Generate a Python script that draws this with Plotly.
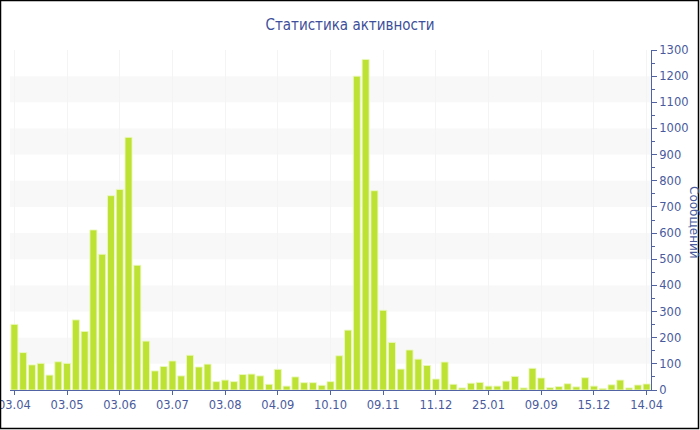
import plotly.graph_objects as go

# ---- data ----
values = [
    251, 143, 96, 102, 57, 108, 102, 268, 224, 612,
    519, 743, 767, 966, 477, 187, 73, 90, 111, 54,
    133, 88, 99, 32, 38, 32, 59, 61, 54, 22,
    79, 15, 50, 28, 28, 18, 32, 131, 229, 1200,
    1264, 762, 305, 182, 80, 153, 118, 94, 42, 107,
    22, 8, 26, 29, 15, 15, 34, 52, 8, 83,
    46, 9, 13, 24, 12, 47, 15, 6, 20, 38,
    8, 19, 23,
]
tick_labels = ["03.04", "03.05", "03.06", "03.07", "03.08", "04.09", "10.10",
               "09.11", "11.12", "25.01", "09.09", "15.12", "14.04"]
label_step = 6
title_text = "Статистика активности"
y_title = "Сообщений"
y_max = 1300
y_step = 100

# ---- layout constants ----
W, H = 700, 430
ML, MR, MT, MB = 10, 49, 50, 40
PW, PH = W - ML - MR, H - MT - MB

axis_col = "#5163a3"
text_col = "#4a5b9d"
bar_col = "#bde233"
font_family = "DejaVu Sans"

x = list(range(len(values)))
tickvals = x[::label_step]

fig = go.Figure()
fig.add_trace(go.Bar(
    x=x, y=values,
    marker=dict(color=bar_col, line=dict(color="rgba(235,248,190,0.9)", width=1)),
    hoverinfo="y",
))

shapes = []
# alternating background bands
for lo in range(y_step, y_max, 2 * y_step):
    shapes.append(dict(type="rect", xref="paper", yref="y", x0=0, x1=1,
                       y0=lo, y1=lo + y_step, fillcolor="#f8f8f8",
                       line=dict(width=0), layer="below"))
# outer frame
shapes.append(dict(type="rect", xref="paper", yref="paper",
                   x0=(0.5 - ML) / PW, x1=(W - 1.5 - ML) / PW,
                   y0=(PH + MT - (H - 1.5)) / PH, y1=(PH + MT - 0.5) / PH,
                   line=dict(color="black", width=1.5), fillcolor="rgba(0,0,0,0)",
                   layer="above"))

fig.update_layout(
    width=W, height=H,
    margin=dict(l=ML, r=MR, t=MT, b=MB, pad=0, autoexpand=False),
    paper_bgcolor="white", plot_bgcolor="white",
    font=dict(family=font_family, color=text_col, size=12),
    title=dict(text=title_text, x=0.5, xanchor="center", y=1 - 25 / H, yanchor="middle",
               font=dict(family="DejaVu Sans Condensed, DejaVu Sans", size=15, color="#3d4f9a")),
    bargap=0.2,
    showlegend=False,
    shapes=shapes,
    annotations=[dict(text=y_title, xref="paper", yref="paper",
                      x=(694 - ML) / PW, y=(PH + MT - 222) / PH,
                      xanchor="center", yanchor="middle", showarrow=False,
                      textangle=90, font=dict(family=font_family, size=12, color=text_col))],
)
fig.update_xaxes(
    range=[-0.5, len(values) - 0.5],
    tickmode="array", tickvals=tickvals, ticktext=tick_labels,
    ticks="outside", ticklen=4, tickcolor=axis_col,
    showline=True, linecolor=axis_col, linewidth=1,
    showgrid=True, gridcolor="#f4f4f4", gridwidth=1,
    tickfont=dict(size=11.5, color=text_col),
    ticklabeloverflow="allow", automargin=False,
    zeroline=False, fixedrange=True,
)
fig.update_yaxes(
    side="right", range=[0, y_max], dtick=y_step, tick0=0,
    ticks="outside", ticklen=5, tickcolor=axis_col,
    minor=dict(dtick=y_step / 2, ticks="outside", ticklen=3, tickcolor=axis_col, showgrid=False),
    showline=True, linecolor=axis_col, linewidth=1,
    showgrid=False, zeroline=False,
    tickfont=dict(size=11.5, color=text_col),
    ticklabeloverflow="allow", automargin=False,
    fixedrange=True,
)

fig.write_html("out.html", config={"displayModeBar": False},
               post_script="document.body.style.margin='0';")
